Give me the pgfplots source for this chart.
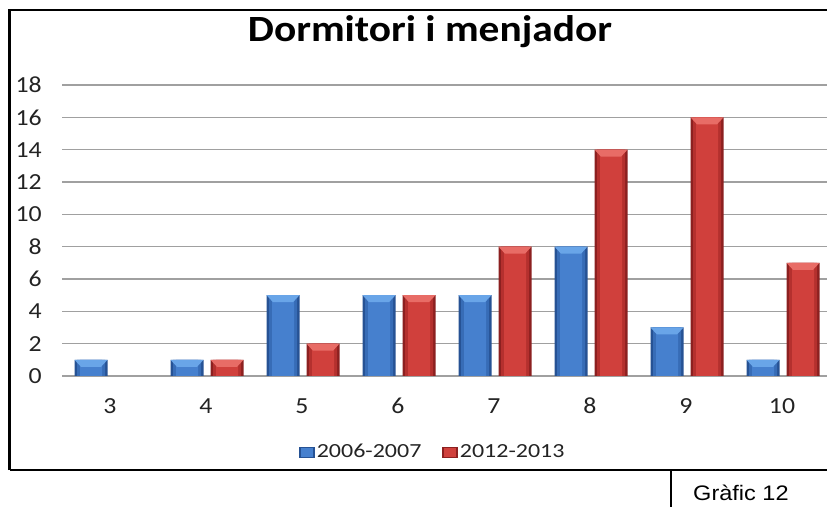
\documentclass[border=0pt]{standalone}
\usepackage{pgfplots}
\usepackage{pgfplotstable}
\pgfplotsset{compat=1.18}
\usepackage{fontspec}
\setmainfont{Carlito}
\newfontfamily\arial{Liberation Sans}
\newcommand\hs[1]{\scalebox{1.12}[1]{#1}}
\newcommand\hl[1]{\scalebox{1.2}[1]{#1}}
\definecolor{b1}{RGB}{38,82,148}
\definecolor{b2}{RGB}{55,108,182}
\definecolor{b3}{RGB}{70,128,206}
\definecolor{bcap}{RGB}{105,165,232}
\definecolor{r1}{RGB}{140,32,32}
\definecolor{r2}{RGB}{180,48,46}
\definecolor{r3}{RGB}{208,64,60}
\definecolor{rcap}{RGB}{232,108,102}
\definecolor{gridgray}{RGB}{160,160,160}
\definecolor{txt}{RGB}{35,35,35}
\pgfplotstableread{
x y
0 1
1 1
2 5
3 5
4 5
5 8
6 3
7 1
}\blue
\pgfplotstableread{
x y
1 1
2 2
3 5
4 8
5 14
6 16
7 7
}\red
\pgfdeclareplotmark{capb}{%
  \pgfpathmoveto{\pgfpoint{-35.5pt}{0pt}}%
  \pgfpathlineto{\pgfpoint{-2.5pt}{0pt}}%
  \pgfpathlineto{\pgfpoint{-9pt}{-7pt}}%
  \pgfpathlineto{\pgfpoint{-29pt}{-7pt}}%
  \pgfpathclose\pgfusepathqfill}
\pgfdeclareplotmark{capr}{%
  \pgfpathmoveto{\pgfpoint{4.5pt}{0pt}}%
  \pgfpathlineto{\pgfpoint{37.5pt}{0pt}}%
  \pgfpathlineto{\pgfpoint{31pt}{-7pt}}%
  \pgfpathlineto{\pgfpoint{11pt}{-7pt}}%
  \pgfpathclose\pgfusepathqfill}
\begin{document}
\begin{tikzpicture}[x=1pt,y=1pt]
\path[use as bounding box] (0,0) rectangle (827,506);
\begin{axis}[
  at={(62pt,130pt)}, anchor=south west,
  scale only axis, width=768pt, height=291pt,
  xmin=-0.5, xmax=7.5, ymin=0, ymax=18,
  axis line style={draw=none},
  ymajorgrids, major grid style={gridgray, line width=1.3pt},
  major tick length=0pt,
  xtick={0,...,7},
  xticklabels={\hs{3},\hs{4},\hs{5},\hs{6},\hs{7},\hs{8},\hs{9},\hs{10}},
  ytick={0,2,...,18},
  yticklabels={\hs{0},\hs{2},\hs{4},\hs{6},\hs{8},\hs{10},\hs{12},\hs{14},\hs{16},\hs{18}},
  tick label style={font=\fontsize{23}{26}\selectfont, text=txt},
  yticklabel style={anchor=east, inner sep=0pt, xshift=-20pt},
  xticklabel style={anchor=center, inner sep=0pt, yshift=-30pt},
  legend style={at={(axis description cs:0.483,-0.261)}, anchor=center, draw=none, fill=none,
    legend columns=2, font=\fontsize{20}{23}\selectfont, text=txt,
    /tikz/every even column/.append style={column sep=18pt},
    nodes={inner sep=2.5pt}},
]
% blue series, layered for a rounded look
\addplot[ybar, bar width=33pt, bar shift=-19pt, fill=b1, draw=none, forget plot] table {\blue};
\addplot[ybar, bar width=28pt, bar shift=-19pt, fill=b2, draw=none, forget plot] table {\blue};
\addplot[ybar, bar width=22pt, bar shift=-19pt, fill=b3, draw=none, forget plot] table {\blue};
\addplot[only marks, mark=capb, color=bcap, forget plot] table {\blue};
% red series
\addplot[ybar, bar width=33pt, bar shift=21pt, fill=r1, draw=none, forget plot] table {\red};
\addplot[ybar, bar width=28pt, bar shift=21pt, fill=r2, draw=none, forget plot] table {\red};
\addplot[ybar, bar width=22pt, bar shift=21pt, fill=r3, draw=none, forget plot] table {\red};
\addplot[only marks, mark=capr, color=rcap, forget plot] table {\red};
\addlegendimage{legend image code/.code={\fill[b1] (0pt,-5pt) rectangle (15pt,5pt); \fill[b3] (2pt,-4pt) rectangle (13pt,4pt);}}
\addlegendimage{legend image code/.code={\fill[r1] (0pt,-5pt) rectangle (15pt,5pt); \fill[r3] (2pt,-4pt) rectangle (13pt,4pt);}}
\legend{\hl{2006-2007},\hl{2012-2013}}
\end{axis}
\node[anchor=base, inner sep=0pt, font=\bfseries\fontsize{37}{40}\selectfont] at (430,464) {\hs{Dormitori i menjador}};
\draw[line width=2.6pt] (9.5,36) -- (9.5,496) -- (835,496);
\draw[line width=2.6pt] (9.5,36) -- (835,36);
\draw[line width=1.8pt] (671,36) -- (671,-5);
\node[anchor=base west, inner sep=0pt, font=\arial\fontsize{21}{24}\selectfont] at (693,6) {\hs{Gràfic 12}};
\end{tikzpicture}
\end{document}
